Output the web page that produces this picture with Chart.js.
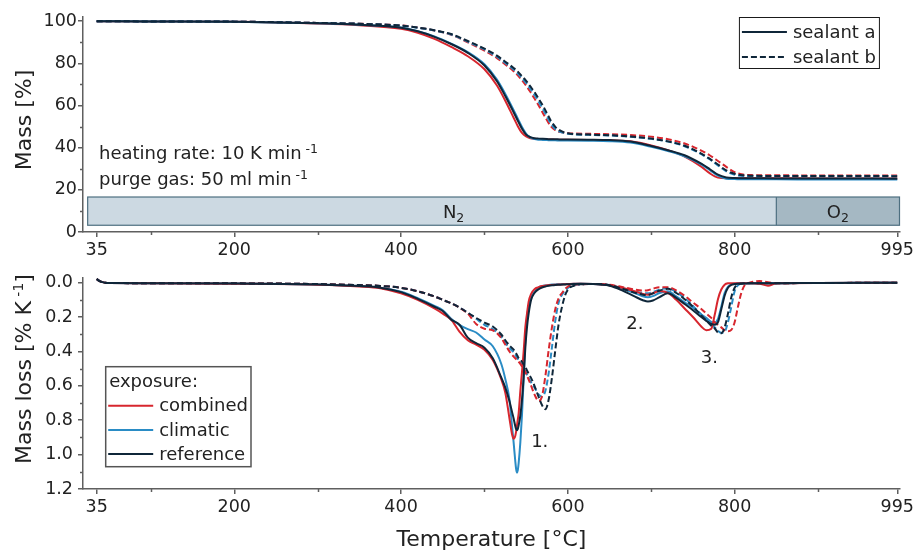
<!DOCTYPE html>
<html>
<head>
<meta charset="utf-8">
<title>TGA / DTG sealants</title>
<script src="https://cdn.jsdelivr.net/npm/chart.js@4.4.1/dist/chart.umd.min.js"></script>
<style>
  body { margin: 0; background: #fff; }
  #wrap { position: relative; width: 917px; height: 551px; }
  canvas { position: absolute; left: 0; }
  #tga { top: 0; }
  #dtg { top: 262px; }
</style>
</head>
<body>
<div id="wrap">
  <canvas id="tga" width="917" height="262"></canvas>
  <canvas id="dtg" width="917" height="289"></canvas>
</div>
<script>
// temperature axis
const xMin = 18.6, xMax = 998.2;
const xTicks = [35, 200, 400, 600, 800, 995];
const xMinor = [100, 300, 500, 700, 900];

// mass axis (top) and mass loss axis (bottom)
const massTicks = [0, 20, 40, 60, 80, 100];
const massMinor = [10, 30, 50, 70, 90];
const lossTicks = [0, 0.2, 0.4, 0.6, 0.8, 1.0, 1.2];
const lossMinor = [0.1, 0.3, 0.5, 0.7, 0.9, 1.1];

// purge gas: N2 up to 850 °C, then O2
const gasSwitch = 850;

// TGA curves, mass in %
const tgaTemp = [35, 100, 200, 300, 350, 400, 420, 440, 460, 480,
  500, 515, 525, 535, 540, 545, 550, 555, 560, 565,
  570, 575, 580, 585, 590, 600, 625, 650, 675, 700,
  720, 740, 760, 770, 780, 790, 800, 810, 820, 850,
  900, 995];

const massRefA = [100, 99.9, 99.7, 99.0, 98.3, 96.9, 95.2, 92.6, 89.2, 85.0,
  79.0, 71.5, 64.5, 56.8, 52.8, 49.0, 46.2, 45.0, 44.5, 44.3,
  44.2, 44.1, 44.0, 44.0, 43.9, 43.9, 43.8, 43.6, 42.9, 40.8,
  38.8, 36.4, 32.4, 29.9, 27.2, 25.9, 25.6, 25.5, 25.5, 25.4,
  25.4, 25.3];
const massCombA = [100, 99.9, 99.7, 98.9, 98.1, 96.4, 94.5, 91.6, 87.8, 83.4,
  77.2, 69.5, 62.3, 54.2, 50.2, 47.0, 45.3, 44.5, 44.2, 44.1,
  44.0, 43.9, 43.9, 43.8, 43.8, 43.8, 43.7, 43.5, 43.0, 41.1,
  38.8, 35.8, 31.0, 27.9, 25.8, 25.5, 25.5, 25.5, 25.5, 25.5,
  25.4, 25.4];
const massClimA = [100, 99.9, 99.7, 99.0, 98.3, 97.0, 95.3, 92.8, 89.4, 85.4,
  79.6, 72.3, 65.5, 57.8, 53.8, 49.8, 46.6, 44.9, 44.1, 43.8,
  43.7, 43.6, 43.5, 43.5, 43.4, 43.4, 43.3, 43.1, 42.4, 40.4,
  38.4, 35.9, 32.1, 29.5, 26.7, 25.3, 25.1, 25.0, 25.0, 25.0,
  24.9, 24.9];
const massRefB = [100, 99.9, 99.8, 99.2, 98.8, 97.9, 97.0, 95.7, 93.9, 90.6,
  87.0, 83.7, 80.8, 77.8, 76.1, 73.9, 71.7, 69.1, 66.4, 63.2,
  60.0, 56.3, 52.5, 49.9, 48.3, 46.8, 46.2, 45.9, 45.3, 44.3,
  43.0, 40.9, 37.2, 34.8, 32.0, 29.2, 27.6, 26.9, 26.7, 26.6,
  26.6, 26.5];
const massClimB = [100, 99.9, 99.8, 99.2, 98.8, 97.9, 96.9, 95.6, 93.7, 90.3,
  86.6, 83.2, 80.2, 77.1, 75.2, 73.0, 70.6, 67.9, 65.0, 61.8,
  58.4, 54.7, 51.2, 48.9, 47.6, 46.6, 46.1, 45.8, 45.2, 44.2,
  42.9, 40.7, 36.9, 34.5, 31.6, 28.8, 27.2, 26.6, 26.5, 26.4,
  26.4, 26.4];
const massCombB = [100, 99.9, 99.8, 99.2, 98.8, 98.0, 97.0, 95.6, 93.6, 90.0,
  86.0, 82.5, 79.5, 76.3, 74.3, 72.0, 69.4, 66.5, 63.3, 60.0,
  56.5, 53.0, 50.0, 48.3, 47.5, 46.9, 46.6, 46.4, 46.0, 45.2,
  44.0, 42.0, 38.6, 36.4, 33.7, 30.9, 28.4, 27.3, 27.0, 26.9,
  26.8, 26.8];

// DTG curves, mass loss in % per K
const dtgTemp = [35, 40, 45, 50, 100, 200, 300, 350, 375,
  400, 420, 440, 450, 460, 470, 480, 490, 500,
  510, 520, 525, 530, 533, 535, 537, 538, 539, 540, 541, 543,
  545, 547, 549, 551, 553, 556, 560, 565, 569, 573,
  577, 581, 585, 589, 593, 597, 601, 607, 615, 630,
  650, 665, 680, 690, 696, 702, 710, 720, 730, 740,
  750, 760, 766, 772, 776, 780, 784, 788, 792, 796,
  800, 804, 808, 812, 816, 822, 830, 840, 850, 900,
  995];

const lossCombA = [-0.02, -0.006, 0.0, 0.002, 0.003, 0.006, 0.012, 0.022, 0.032,
  0.062, 0.1, 0.15, 0.18, 0.215, 0.285, 0.335, 0.36, 0.39,
  0.45, 0.56, 0.64, 0.79, 0.88, 0.908, 0.89, 0.865, 0.83, 0.795, 0.76, 0.63,
  0.52, 0.40, 0.26, 0.18, 0.11, 0.065, 0.038, 0.026, 0.02, 0.017,
  0.015, 0.013, 0.012, 0.011, 0.01, 0.009, 0.008, 0.007, 0.007, 0.008,
  0.015, 0.03, 0.05, 0.066, 0.07, 0.062, 0.048, 0.06, 0.1, 0.15,
  0.2, 0.255, 0.277, 0.268, 0.19, 0.096, 0.04, 0.012, 0.004, 0.003,
  0.003, 0.003, 0.003, 0.003, 0.003, 0.004, 0.006, 0.018, 0.004, 0.002,
  0.0];
const lossClimA = [-0.02, -0.006, 0.0, 0.002, 0.003, 0.005, 0.01, 0.02, 0.029,
  0.052, 0.09, 0.135, 0.16, 0.21, 0.245, 0.27, 0.29, 0.33,
  0.37, 0.47, 0.56, 0.68, 0.83, 0.93, 1.04, 1.085, 1.105, 1.09, 1.05, 0.93,
  0.77, 0.56, 0.33, 0.2, 0.14, 0.085, 0.055, 0.028, 0.02, 0.016,
  0.013, 0.011, 0.01, 0.009, 0.009, 0.008, 0.008, 0.007, 0.007, 0.008,
  0.014, 0.035, 0.06, 0.08, 0.085, 0.078, 0.06, 0.05, 0.08, 0.115,
  0.145, 0.185, 0.205, 0.228, 0.233, 0.21, 0.14, 0.06, 0.024, 0.01,
  0.006, 0.004, 0.003, 0.003, 0.003, 0.003, 0.003, 0.004, 0.003, 0.002,
  0.0];
const lossRefA = [-0.02, -0.006, 0.0, 0.002, 0.003, 0.005, 0.01, 0.02, 0.029,
  0.055, 0.094, 0.14, 0.165, 0.215, 0.245, 0.32, 0.352, 0.378,
  0.44, 0.55, 0.61, 0.69, 0.75, 0.79, 0.835, 0.852, 0.858, 0.85, 0.83, 0.774,
  0.68, 0.55, 0.38, 0.26, 0.18, 0.1, 0.06, 0.038, 0.028, 0.022,
  0.018, 0.015, 0.013, 0.012, 0.011, 0.01, 0.009, 0.008, 0.007, 0.008,
  0.018, 0.045, 0.08, 0.102, 0.11, 0.104, 0.084, 0.062, 0.088, 0.124,
  0.16, 0.2, 0.222, 0.24, 0.245, 0.23, 0.155, 0.076, 0.03, 0.013,
  0.008, 0.006, 0.005, 0.005, 0.004, 0.004, 0.004, 0.004, 0.003, 0.002,
  0.0];
const lossRefB = [-0.02, -0.006, 0.0, 0.002, 0.003, 0.004, 0.008, 0.014, 0.019,
  0.03, 0.05, 0.08, 0.1, 0.12, 0.145, 0.175, 0.205, 0.232,
  0.255, 0.3, 0.335, 0.365, 0.38, 0.39, 0.405, 0.412, 0.42, 0.43, 0.44, 0.45,
  0.46, 0.475, 0.49, 0.51, 0.53, 0.555, 0.6, 0.665, 0.712, 0.736,
  0.68, 0.55, 0.39, 0.24, 0.14, 0.07, 0.035, 0.018, 0.01, 0.008,
  0.015, 0.035, 0.058, 0.07, 0.072, 0.062, 0.046, 0.036, 0.06, 0.096,
  0.14, 0.19, 0.22, 0.25, 0.265, 0.29, 0.294, 0.26, 0.18, 0.085,
  0.03, 0.01, 0.006, 0.004, 0.004, 0.003, 0.003, 0.003, 0.003, 0.002,
  0.0];
const lossClimB = [-0.02, -0.006, 0.0, 0.002, 0.003, 0.004, 0.008, 0.014, 0.019,
  0.03, 0.05, 0.08, 0.1, 0.12, 0.145, 0.175, 0.21, 0.245,
  0.27, 0.315, 0.35, 0.38, 0.395, 0.405, 0.42, 0.428, 0.435, 0.443, 0.45, 0.465,
  0.48, 0.495, 0.515, 0.535, 0.555, 0.58, 0.61, 0.65, 0.663, 0.63,
  0.526, 0.373, 0.22, 0.115, 0.07, 0.045, 0.028, 0.016, 0.01, 0.008,
  0.014, 0.032, 0.05, 0.06, 0.062, 0.055, 0.04, 0.032, 0.055, 0.09,
  0.135, 0.185, 0.215, 0.245, 0.26, 0.28, 0.292, 0.285, 0.23, 0.14,
  0.05, 0.015, 0.006, 0.004, 0.003, 0.003, 0.003, 0.003, 0.003, 0.002,
  0.0];
const lossCombB = [-0.02, -0.006, 0.0, 0.002, 0.003, 0.004, 0.008, 0.014, 0.019,
  0.03, 0.05, 0.08, 0.1, 0.12, 0.145, 0.18, 0.24, 0.268,
  0.277, 0.32, 0.36, 0.4, 0.42, 0.43, 0.44, 0.445, 0.45, 0.455, 0.46, 0.472,
  0.487, 0.5, 0.52, 0.54, 0.564, 0.6, 0.65, 0.688, 0.66, 0.545,
  0.392, 0.258, 0.153, 0.09, 0.06, 0.035, 0.02, 0.012, 0.009, 0.008,
  0.012, 0.025, 0.04, 0.046, 0.044, 0.035, 0.026, 0.026, 0.045, 0.076,
  0.115, 0.153, 0.18, 0.205, 0.23, 0.245, 0.26, 0.277, 0.283, 0.275,
  0.23, 0.14, 0.06, 0.015, 0.003, -0.006, -0.01, -0.002, 0.003, 0.002,
  0.0];

const exposures = ['combined', 'climatic', 'reference'];
const sealants = ['sealant a', 'sealant b'];
const peakLabels = ['1.', '2.', '3.'];

const FONT = "'DejaVu Sans', Verdana, sans-serif";
const INK = '#222';
const AXIS = '#5f5f5f';
const colors = { combined: '#d7262e', climatic: '#2a8cc5', reference: '#0f2639' };

Chart.defaults.font.family = FONT;
Chart.defaults.color = INK;

function series(temps, values, color, dashed, order) {
  return {
    data: temps.map((t, i) => ({ x: t, y: values[i] })),
    borderColor: color,
    borderWidth: 2,
    borderDash: dashed ? [6, 3] : [],
    pointRadius: 0,
    fill: false,
    cubicInterpolationMode: 'monotone',
    order: order
  };
}

function xScale(withTitle) {
  return {
    type: 'linear',
    min: xMin,
    max: xMax,
    afterBuildTicks: s => { s.ticks = xTicks.map(v => ({ value: v })); },
    afterFit: s => { s.height = withTitle ? 62 : 30; },
    ticks: { font: { size: 17.5 }, padding: 3, autoSkip: false, maxRotation: 0, callback: v => String(v) },
    grid: { drawOnChartArea: false, color: AXIS, lineWidth: 1.5, tickLength: 5 },
    border: { color: AXIS, width: 1.5 },
    title: {
      display: withTitle,
      text: 'Temperature [°C]',
      font: { size: 22, lineHeight: 1 },
      padding: 0
    }
  };
}

function yScale(min, max, ticks, reverse, pad, fmt) {
  return {
    type: 'linear',
    min: min,
    max: max,
    reverse: reverse,
    afterBuildTicks: s => { s.ticks = ticks.map(v => ({ value: v })); },
    afterFit: s => { s.width = 83; },
    ticks: { font: { size: 17.5 }, padding: pad, callback: fmt },
    grid: { drawOnChartArea: false, color: AXIS, lineWidth: 1.5, tickLength: 5 },
    border: { color: AXIS, width: 1.5 }
  };
}

// short unlabelled ticks between the labelled ones
const minorTicks = {
  id: 'minorTicks',
  afterDraw(chart, args, opts) {
    const { ctx, scales: { x, y } } = chart;
    ctx.save();
    ctx.strokeStyle = AXIS;
    ctx.lineWidth = 1.5;
    ctx.beginPath();
    xMinor.forEach(v => {
      const px = Math.round(x.getPixelForValue(v)) + 0.5;
      ctx.moveTo(px, x.top);
      ctx.lineTo(px, x.top + 3);
    });
    opts.values.forEach(v => {
      const py = Math.round(y.getPixelForValue(v)) + 0.5;
      ctx.moveTo(y.right, py);
      ctx.lineTo(y.right - 3, py);
    });
    ctx.stroke();
    ctx.restore();
  }
};

// text runs with raised / lowered pieces: [text, size, shift]
function drawRuns(ctx, runs, x, y) {
  let cx = x;
  runs.forEach(([t, size, shift]) => {
    ctx.font = size + 'px ' + FONT;
    ctx.fillText(t, cx, y - (shift || 0));
    cx += ctx.measureText(t).width;
  });
  return cx - x;
}

function runsWidth(ctx, runs) {
  let w = 0;
  runs.forEach(([t, size]) => {
    ctx.font = size + 'px ' + FONT;
    w += ctx.measureText(t).width;
  });
  return w;
}

function drawYTitle(ctx, runs, cx, cy) {
  ctx.save();
  ctx.translate(cx, cy);
  ctx.rotate(-Math.PI / 2);
  ctx.fillStyle = INK;
  ctx.textBaseline = 'alphabetic';
  drawRuns(ctx, runs, -runsWidth(ctx, runs) / 2, 8);
  ctx.restore();
}

function legendLine(ctx, x0, x1, y, color, dashed) {
  ctx.save();
  ctx.strokeStyle = color;
  ctx.lineWidth = 2;
  ctx.setLineDash(dashed ? [6, 3] : []);
  ctx.beginPath();
  ctx.moveTo(x0, y);
  ctx.lineTo(x1, y);
  ctx.stroke();
  ctx.restore();
}

const tgaDecor = {
  id: 'tgaDecor',
  beforeDatasetsDraw(chart) {
    const { ctx, scales: { x, y } } = chart;
    const top = y.getPixelForValue(16.6), bottom = y.getPixelForValue(3.2);
    const x0 = x.getPixelForValue(24.2), x1 = x.getPixelForValue(gasSwitch), x2 = x.getPixelForValue(997.7);
    ctx.save();
    ctx.fillStyle = '#ccd9e2';
    ctx.fillRect(x0, top, x1 - x0, bottom - top);
    ctx.fillStyle = '#a5b8c3';
    ctx.fillRect(x1, top, x2 - x1, bottom - top);
    ctx.strokeStyle = '#4d6f80';
    ctx.lineWidth = 1.2;
    ctx.strokeRect(x0, top, x2 - x0, bottom - top);
    ctx.beginPath();
    ctx.moveTo(x1, top);
    ctx.lineTo(x1, bottom);
    ctx.stroke();

    ctx.fillStyle = INK;
    ctx.textBaseline = 'alphabetic';
    const base = (top + bottom) / 2 + 6.5;
    const n2 = [['N', 18], ['2', 12.5, -4.5]];
    const o2 = [['O', 18], ['2', 12.5, -4.5]];
    drawRuns(ctx, n2, x.getPixelForValue(463) - runsWidth(ctx, n2) / 2, base);
    drawRuns(ctx, o2, (x1 + x2) / 2 - runsWidth(ctx, o2) / 2, base);
    ctx.restore();
  },
  afterDraw(chart) {
    const { ctx, chartArea: a } = chart;
    ctx.save();
    ctx.fillStyle = INK;
    ctx.textBaseline = 'alphabetic';
    drawRuns(ctx, [['heating rate: 10 K min', 18], [' -1', 12.5, 6.5]], a.left + 16, 159);
    drawRuns(ctx, [['purge gas: 50 ml min', 18], [' -1', 12.5, 6.5]], a.left + 16, 185);

    // sealant legend
    const bx = a.right - 161, by = a.top, bw = 140, bh = 51;
    ctx.fillStyle = '#fff';
    ctx.fillRect(bx, by, bw, bh);
    ctx.strokeStyle = '#1a1a1a';
    ctx.lineWidth = 1;
    ctx.strokeRect(bx + 0.5, by + 0.5, bw, bh);
    ctx.fillStyle = INK;
    ctx.font = '18px ' + FONT;
    ctx.textBaseline = 'middle';
    sealants.forEach((name, i) => {
      const ly = by + 15 + i * 25;
      legendLine(ctx, bx + 3, bx + 48, ly, colors.reference, i === 1);
      ctx.fillText(name, bx + 54, ly + 1);
    });
    ctx.restore();

    drawYTitle(ctx, [['Mass [%]', 22]], 22.5, 120);
  }
};

const dtgDecor = {
  id: 'dtgDecor',
  afterDraw(chart) {
    const { ctx, chartArea: a, scales: { x, y } } = chart;
    ctx.save();
    ctx.fillStyle = INK;
    ctx.font = '18px ' + FONT;
    ctx.textBaseline = 'alphabetic';
    const spots = [[556, 0.958], [670, 0.27], [759.5, 0.47]];
    peakLabels.forEach((t, i) => {
      ctx.fillText(t, x.getPixelForValue(spots[i][0]), y.getPixelForValue(spots[i][1]));
    });

    // exposure legend
    const bx = a.left + 22.7, by = a.bottom - 122.3, bw = 145.3, bh = 100;
    ctx.fillStyle = '#fff';
    ctx.fillRect(bx, by, bw, bh);
    ctx.strokeStyle = '#555';
    ctx.lineWidth = 1.5;
    ctx.strokeRect(bx, by, bw, bh);
    ctx.fillStyle = INK;
    ctx.textBaseline = 'middle';
    ctx.fillText('exposure:', bx + 3.5, by + 15.5);
    exposures.forEach((name, i) => {
      const ly = by + 39 + i * 24.2;
      legendLine(ctx, bx + 2.5, bx + 47.5, ly, colors[name], false);
      ctx.fillText(name, bx + 53.5, ly + 1);
    });
    ctx.restore();

    drawYTitle(ctx, [['Mass loss [% K', 22], [' -1', 14, 8], [']', 22]], 22.5, 107);
  }
};

const baseOptions = {
  responsive: false,
  animation: false,
  devicePixelRatio: 1,
  plugins: { legend: { display: false }, tooltip: { enabled: false } }
};

new Chart(document.getElementById('tga'), {
  type: 'line',
  data: {
    datasets: [
      series(tgaTemp, massRefA, colors.reference, false, 0),
      series(tgaTemp, massRefB, colors.reference, true, 1),
      series(tgaTemp, massClimA, colors.climatic, false, 2),
      series(tgaTemp, massClimB, colors.climatic, true, 3),
      series(tgaTemp, massCombA, colors.combined, false, 4),
      series(tgaTemp, massCombB, colors.combined, true, 5)
    ]
  },
  options: {
    ...baseOptions,
    layout: { padding: { top: 17, right: 14.3, bottom: 0, left: 0 } },
    scales: {
      x: xScale(false),
      y: yScale(0, 102, massTicks, false, 1, v => String(v))
    },
    plugins: { ...baseOptions.plugins, minorTicks: { values: massMinor } }
  },
  plugins: [minorTicks, tgaDecor]
});

new Chart(document.getElementById('dtg'), {
  type: 'line',
  data: {
    datasets: [
      series(dtgTemp, lossRefA, colors.reference, false, 0),
      series(dtgTemp, lossRefB, colors.reference, true, 1),
      series(dtgTemp, lossCombA, colors.combined, false, 2),
      series(dtgTemp, lossCombB, colors.combined, true, 3),
      series(dtgTemp, lossClimA, colors.climatic, false, 4),
      series(dtgTemp, lossClimB, colors.climatic, true, 5)
    ]
  },
  options: {
    ...baseOptions,
    layout: { padding: { top: 13, right: 14.3, bottom: 0, left: 0 } },
    scales: {
      x: xScale(true),
      y: yScale(-0.03, 1.2, lossTicks, true, 5, v => v.toFixed(1))
    },
    plugins: { ...baseOptions.plugins, minorTicks: { values: lossMinor } }
  },
  plugins: [minorTicks, dtgDecor]
});
</script>
</body>
</html>
